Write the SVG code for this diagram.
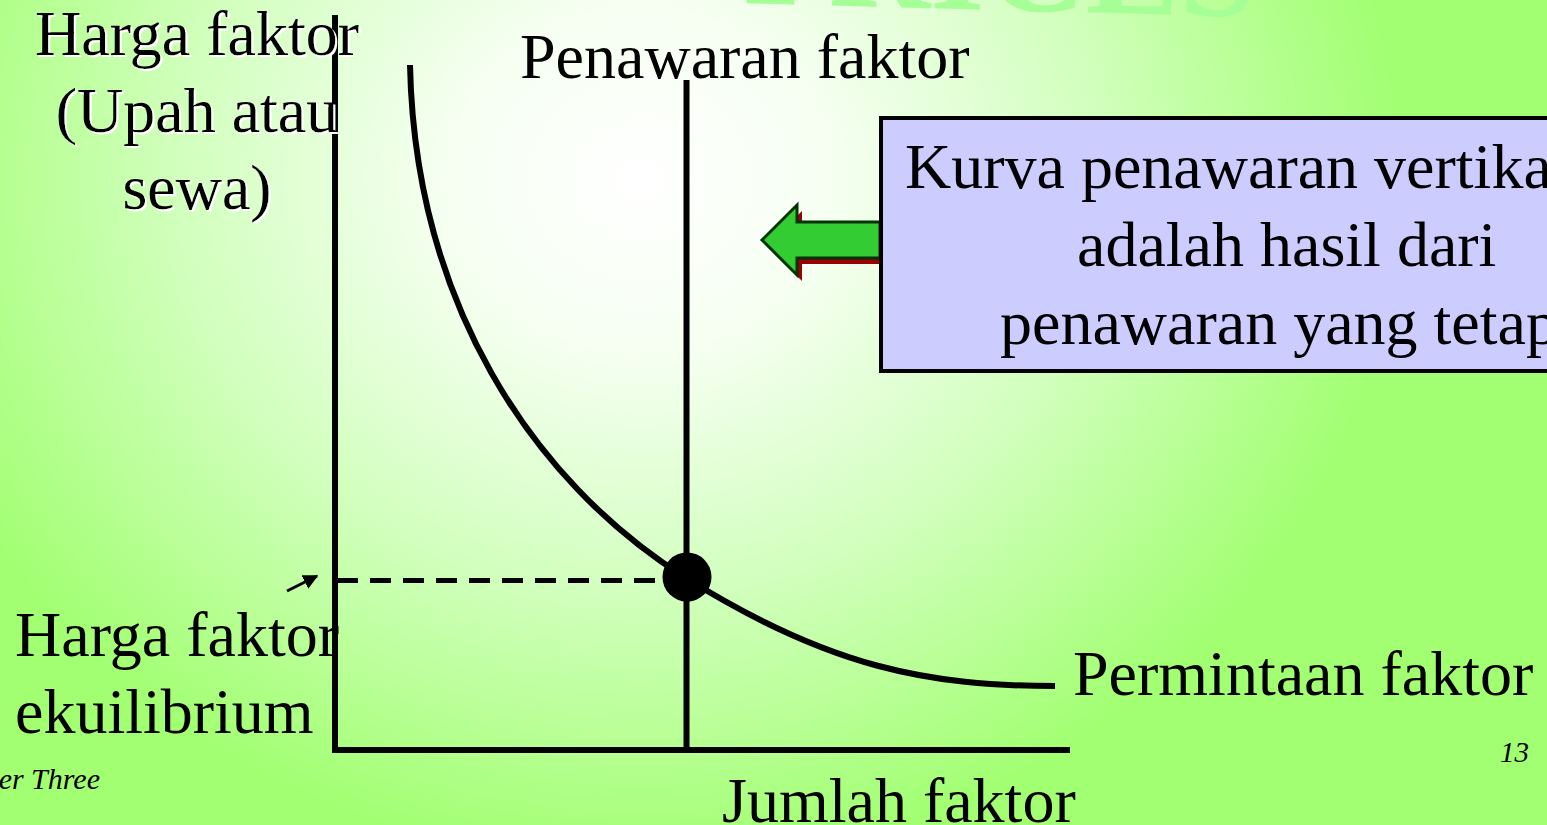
<svg xmlns="http://www.w3.org/2000/svg" width="1547" height="825" viewBox="0 0 1547 825">
<defs>
<radialGradient id="bg" gradientUnits="userSpaceOnUse" cx="640" cy="180" r="760" gradientTransform="translate(640 180) scale(1 0.9) translate(-640 -180)">
<stop offset="0" stop-color="#ffffff"/>
<stop offset="0.25" stop-color="#f6fff2"/>
<stop offset="0.6" stop-color="#d2ffbe"/>
<stop offset="1" stop-color="#a2ff72"/>
</radialGradient>
<filter id="halo" x="-10%" y="-10%" width="120%" height="130%">
<feDropShadow dx="2" dy="2" stdDeviation="0.6" flood-color="#ffffff" flood-opacity="1"/>
</filter>
<marker id="ah" viewBox="0 0 10 10" refX="9" refY="5" markerWidth="5" markerHeight="5" orient="auto" markerUnits="strokeWidth">
<path d="M0,0 L10,5 L0,10 z" fill="#000"/>
</marker>
<style>
.t{font-family:"Liberation Serif","Times New Roman",serif;font-size:64px;fill:#000}
.ax{stroke:#000;stroke-width:6;fill:none}
</style>
</defs>
<rect width="1547" height="825" fill="url(#bg)"/>
<text x="1000" y="10" transform="rotate(1.5 1000 10)" text-anchor="middle" font-family="Liberation Serif, serif" font-weight="bold" font-size="140" fill="#a6ff96">PRICES</text>

<g id="axes">
<line class="ax" x1="335" y1="15" x2="335" y2="753"/>
<line class="ax" x1="332" y1="750" x2="1070" y2="750"/>
</g>

<g id="connectors">
<line id="supply" class="ax" x1="686.5" y1="80" x2="686.5" y2="750"/>
<path id="demand" class="ax" d="M410,65 C415,300 530,480 686,578 C830,668 930,686 1055,686"/>
<line id="dash" x1="337" y1="580.5" x2="656" y2="580.5" stroke="#000" stroke-width="5" stroke-dasharray="21 12"/>
<line id="small-arrow" x1="287" y1="591" x2="317" y2="576" stroke="#000" stroke-width="3" marker-end="url(#ah)"/>
</g>

<g id="equilibrium">
<circle cx="687" cy="577" r="24.5" fill="#000"/>
</g>

<g id="callout-arrow">
<polygon points="767,246 802,211 802,228 885,228 885,264 802,264 802,281" fill="#990000"/>
<polygon points="762,240 797,205 797,222 880,222 880,258 797,258 797,275" fill="#33cc33" stroke="#003300" stroke-width="3" stroke-linejoin="miter"/>
</g>

<g id="callout">
<rect x="881" y="118" width="700" height="253" fill="#ccccff" stroke="#000" stroke-width="4"/>
<text class="t" x="905" y="188">Kurva penawaran vertikal</text>
<text class="t" x="1077" y="266">adalah hasil dari</text>
<text class="t" x="1000" y="344">penawaran yang tetap</text>
</g>

<g id="y-label" filter="url(#halo)">
<text class="t" x="197" y="55" text-anchor="middle">Harga faktor</text>
<text class="t" x="197" y="132" text-anchor="middle">(Upah atau</text>
<text class="t" x="197" y="209" text-anchor="middle">sewa)</text>
</g>

<g id="supply-label">
<text class="t" x="520" y="78">Penawaran faktor</text>
</g>

<g id="eq-label">
<text class="t" x="15" y="656">Harga faktor</text>
<text class="t" x="15" y="733">ekuilibrium</text>
</g>

<g id="demand-label">
<text class="t" x="1073" y="695">Permintaan faktor</text>
</g>

<g id="x-label">
<text class="t" x="722" y="822">Jumlah faktor</text>
</g>

<g id="footer">
<text x="100" y="789" text-anchor="end" font-family="Liberation Serif, serif" font-style="italic" font-size="30" fill="#000">er Three</text>
<text x="1529" y="762" text-anchor="end" font-family="Liberation Serif, serif" font-style="italic" font-size="29" fill="#000">13</text>
</g>
</svg>
